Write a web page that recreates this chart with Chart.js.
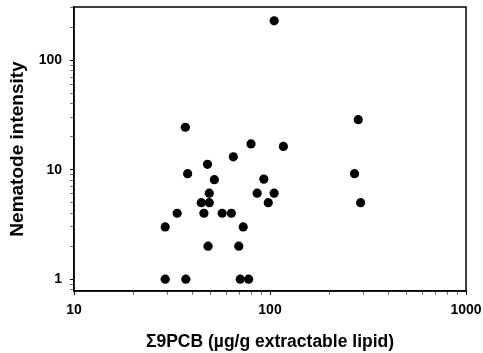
<!DOCTYPE html>
<html>
<head>
<meta charset="utf-8">
<script src="https://cdn.jsdelivr.net/npm/chart.js@4/dist/chart.umd.min.js"></script>
<style>
html,body{margin:0;padding:0;background:#fff;}
#wrap{width:483px;height:353px;}
</style>
</head>
<body>
<div id="wrap"><canvas id="c" width="483" height="353"></canvas></div>
<script>
// PCB concentration (µg/g extractable lipid)
const pcbValues = [105, 37, 282, 80, 117, 65, 48, 38, 270, 52, 93, 49, 86, 105, 44.6, 49, 98, 290, 33.6, 46, 57, 63.5, 29.2, 73, 48.3, 69.3, 29.2, 37.2, 70.5, 77.8];
// Nematode intensity
const intensityValues = [229, 24.4, 28.6, 17.2, 16.3, 13.1, 11.2, 9.2, 9.2, 8.1, 8.2, 6.1, 6.1, 6.1, 5, 5, 5, 5, 4, 4, 4, 4, 3, 3, 2, 2, 1, 1, 1, 1];
const xTickLabels = [10, 100, 1000];
const yTickLabels = [1, 10, 100];
const xMinorTicks = [20,30,40,50,60,70,80,90,200,300,400,500,600,700,800,900];
const yMinorTicks = [0.8,0.9,2,3,4,5,6,7,8,9,20,30,40,50,60,70,80,90,200,300];

const points = pcbValues.map((x, i) => ({x: x, y: intensityValues[i]}));

const frame = {
  id: 'frame',
  afterDraw(chart) {
    const {ctx, chartArea: a} = chart;
    ctx.save();
    ctx.strokeStyle = '#000';
    ctx.lineWidth = 1.5;
    ctx.strokeRect(a.left, a.top, a.right - a.left, a.bottom - a.top);
    ctx.restore();
  }
};

const fontFam = '"Liberation Sans", Arial, Helvetica, sans-serif';

new Chart(document.getElementById('c'), {
  type: 'scatter',
  data: {
    datasets: [{
      data: points,
      backgroundColor: '#000',
      borderColor: '#000',
      pointRadius: 4.6,
      pointHoverRadius: 4.6,
      borderWidth: 0
    }]
  },
  options: {
    responsive: false,
    animation: false,
    events: [],
    layout: {padding: {left: 0, right: 17, top: 7, bottom: 0}},
    plugins: {legend: {display: false}, tooltip: {enabled: false}},
    scales: {
      x: {
        type: 'logarithmic',
        min: 10,
        max: 1000,
        afterBuildTicks(scale) {
          scale.ticks = xTickLabels.concat(xMinorTicks).sort((a, b) => a - b).map(v => ({value: v, major: xTickLabels.includes(v)}));
        },
        afterFit(scale) { scale.height = 62; scale.paddingLeft = 0; scale.paddingRight = 0; },
        border: {display: true, color: '#000', width: 1.5},
        grid: {
          drawOnChartArea: false,
          tickLength: 4,
          tickColor: ctx => (ctx.tick && xTickLabels.includes(ctx.tick.value)) ? '#000' : '#777',
          tickWidth: 1
        },
        ticks: {
          autoSkip: false,
          maxRotation: 0,
          padding: 7,
          color: '#000',
          font: {family: fontFam, size: 14, weight: 'bold'},
          callback: v => xTickLabels.includes(v) ? String(v) : ''
        },
        title: {
          display: true,
          text: 'Σ9PCB (µg/g extractable lipid)',
          color: '#000',
          font: {family: fontFam, size: 17.5, weight: 'bold'},
          padding: {top: 0, bottom: 0}
        }
      },
      y: {
        type: 'logarithmic',
        min: 0.78,
        max: 306,
        afterBuildTicks(scale) {
          scale.ticks = yTickLabels.concat(yMinorTicks).sort((a, b) => a - b).map(v => ({value: v, major: yTickLabels.includes(v)}));
        },
        afterFit(scale) { scale.width = 74; scale.paddingTop = 0; scale.paddingBottom = 0; },
        border: {display: true, color: '#000', width: 1.5},
        grid: {
          drawOnChartArea: false,
          tickLength: 4,
          tickColor: ctx => (ctx.tick && yTickLabels.includes(ctx.tick.value)) ? '#000' : '#777',
          tickWidth: 1
        },
        ticks: {
          autoSkip: false,
          padding: 8,
          color: '#000',
          font: {family: fontFam, size: 14, weight: 'bold'},
          callback: v => yTickLabels.includes(v) ? String(v) : ''
        },
        title: {
          display: true,
          text: 'Nematode intensity',
          color: '#000',
          font: {family: fontFam, size: 19, weight: 'bold'},
          padding: {top: 6, bottom: 0}
        }
      }
    }
  },
  plugins: [frame]
});
</script>
</body>
</html>
